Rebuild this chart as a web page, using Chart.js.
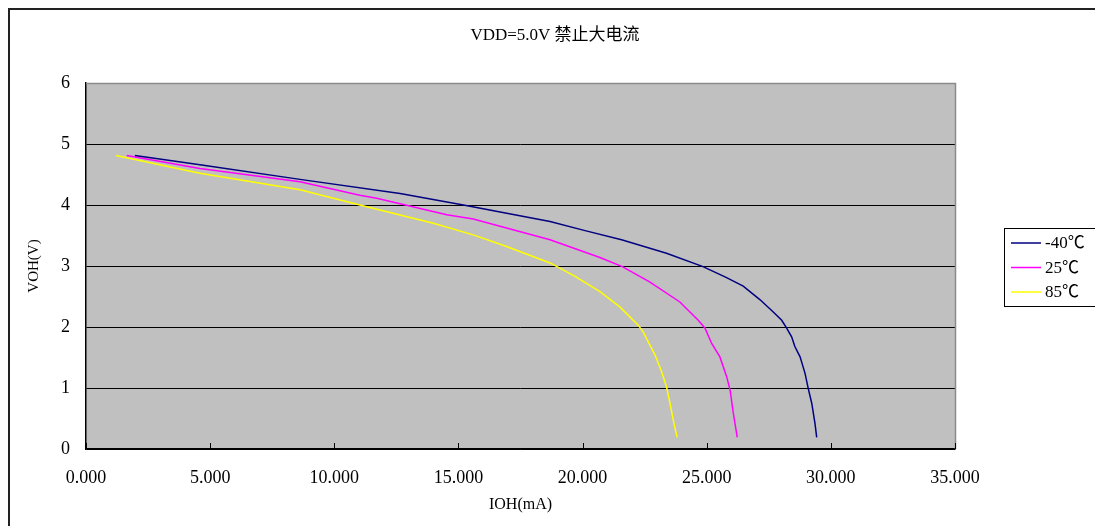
<!DOCTYPE html>
<html>
<head>
<meta charset="utf-8">
<script src="https://cdn.jsdelivr.net/npm/chart.js@4.4.1/dist/chart.umd.min.js"></script>
<style>
  html, body { margin: 0; padding: 0; background: #fff; }
  #wrap { position: relative; width: 1095px; height: 526px; }
</style>
</head>
<body>
<div id="wrap"><canvas id="c" width="1095" height="526"></canvas></div>
<script>
// ---- data ----
const chartTitle = 'VDD=5.0V 禁止大电流';
const xTitle = 'IOH(mA)';
const yTitle = 'VOH(V)';
const seriesLabels = ['-40℃', '25℃', '85℃'];

const iohM40 = [1.97, 4.59, 8.62, 12.65, 15.2, 18.69, 20.1, 21.57, 23.38, 24.85, 25.8, 26.47, 27.14, 27.67, 28.02, 28.22, 28.42, 28.55, 28.76, 28.96, 29.09, 29.23, 29.36, 29.43];
const vohM40 = [4.81, 4.66, 4.42, 4.19, 4.0, 3.73, 3.58, 3.43, 3.21, 2.99, 2.81, 2.67, 2.45, 2.25, 2.11, 1.98, 1.84, 1.68, 1.51, 1.24, 0.99, 0.75, 0.42, 0.19];

const ioh25 = [1.64, 4.59, 8.62, 11.03, 11.71, 14.53, 15.6, 18.69, 20.7, 21.6, 22.7, 23.92, 24.66, 24.93, 25.2, 25.53, 25.8, 25.94, 26.07, 26.23];
const voh25 = [4.81, 4.60, 4.38, 4.16, 4.11, 3.84, 3.77, 3.43, 3.14, 2.99, 2.74, 2.41, 2.11, 1.98, 1.73, 1.51, 1.19, 0.97, 0.59, 0.19];

const ioh85 = [1.21, 4.59, 8.62, 11.03, 13.99, 15.6, 16.94, 18.69, 19.7, 20.7, 21.5, 22.24, 22.44, 22.92, 23.18, 23.38, 23.52, 23.68, 23.81];
const voh85 = [4.81, 4.52, 4.25, 4.0, 3.70, 3.51, 3.32, 3.05, 2.83, 2.58, 2.33, 2.03, 1.92, 1.54, 1.27, 1.02, 0.75, 0.42, 0.19];

const xMin = 0, xMax = 35, xStep = 5;
const yMin = 0, yMax = 6, yStep = 1;

// ---- styling ----
const FONT = '"Liberation Serif", "Noto Sans CJK SC", serif';
const colors = ['#000080', '#FF00FF', '#FFFF00'];

function pts(xs, ys) { return xs.map((x, i) => ({ x: x, y: ys[i] })); }

const plotBg = {
  id: 'plotBg',
  beforeDraw(chart) {
    const { ctx, chartArea: a } = chart;
    ctx.save();
    ctx.fillStyle = '#C0C0C0';
    ctx.fillRect(a.left, a.top, a.right - a.left, a.bottom - a.top);
    ctx.restore();
  },
  afterDraw(chart) {
    const { ctx, chartArea: a } = chart;
    ctx.save();
    // outer chart border (extends off-canvas on right/bottom)
    ctx.strokeStyle = '#222';
    ctx.lineWidth = 2;
    ctx.strokeRect(9, 9, 1200, 700);
    // plot area top & right edges (gray)
    ctx.strokeStyle = '#8a8a8a';
    ctx.lineWidth = 1.5;
    ctx.beginPath();
    ctx.moveTo(a.left, a.top + 0.5);
    ctx.lineTo(a.right + 0.5, a.top + 0.5);
    ctx.lineTo(a.right + 0.5, a.bottom);
    ctx.stroke();
    // inward tick marks on x axis
    const xs = chart.scales.x;
    ctx.strokeStyle = '#000';
    ctx.lineWidth = 1;
    xs.ticks.forEach(t => {
      const px = Math.round(xs.getPixelForValue(t.value)) + 0.5;
      ctx.beginPath();
      ctx.moveTo(px, a.bottom);
      ctx.lineTo(px, a.bottom - 6);
      ctx.stroke();
    });
    // title
    ctx.fillStyle = '#000';
    ctx.font = '17px ' + FONT;
    ctx.textAlign = 'center';
    ctx.textBaseline = 'middle';
    ctx.fillText(chartTitle, 555, 36);
    // legend
    const lx = 1004.5, ly = 228.5;
    ctx.strokeStyle = '#000';
    ctx.lineWidth = 1;
    ctx.fillStyle = '#fff';
    ctx.fillRect(lx, ly, 200, 78);
    ctx.strokeRect(lx, ly, 200, 78);
    chart.data.datasets.forEach((ds, i) => {
      const y = 243 + i * 24.5;
      ctx.strokeStyle = ds.borderColor;
      ctx.lineWidth = 1.5;
      ctx.beginPath();
      ctx.moveTo(1011, y);
      ctx.lineTo(1041, y);
      ctx.stroke();
      ctx.fillStyle = '#000';
      ctx.font = '17px ' + FONT;
      ctx.textAlign = 'left';
      ctx.textBaseline = 'middle';
      ctx.fillText(ds.label, 1045, y + 1);
    });
    ctx.restore();
  }
};

new Chart(document.getElementById('c'), {
  type: 'scatter',
  data: {
    datasets: [
      { label: seriesLabels[0], data: pts(iohM40, vohM40) },
      { label: seriesLabels[1], data: pts(ioh25, voh25) },
      { label: seriesLabels[2], data: pts(ioh85, voh85) }
    ].map((d, i) => Object.assign(d, {
      showLine: true, borderColor: colors[i], backgroundColor: colors[i],
      borderWidth: 1.5, pointRadius: 0, pointHoverRadius: 0, tension: 0, fill: false
    }))
  },
  options: {
    responsive: false,
    animation: false,
    devicePixelRatio: 1,
    layout: { padding: { top: 83, right: 140, bottom: 0, left: 0 } },
    plugins: {
      legend: { display: false },
      title: { display: false },
      tooltip: { enabled: false }
    },
    scales: {
      x: {
        type: 'linear',
        min: xMin, max: xMax,
        afterFit: s => { s.height = 77; },
        grid: { display: false },
        border: { display: true, color: '#000', width: 1.5 },
        ticks: {
          stepSize: xStep,
          padding: 10,
          color: '#000',
          font: { family: FONT, size: 18 },
          maxRotation: 0,
          callback: v => v.toFixed(3)
        },
        title: {
          display: true, text: xTitle, color: '#000',
          font: { family: FONT, size: 16 },
          padding: { top: 0, bottom: 12 }
        }
      },
      y: {
        type: 'linear',
        min: yMin, max: yMax,
        afterFit: s => { s.width = 86; },
        grid: {
          drawTicks: false,
          color: c => (c.tick && c.tick.value === yMax) ? '#8a8a8a' : '#000',
          lineWidth: 1
        },
        border: { display: true, color: '#000', width: 1.5 },
        ticks: {
          stepSize: yStep,
          padding: 16,
          color: '#000',
          font: { family: FONT, size: 18 }
        },
        title: {
          display: true, text: yTitle, color: '#000',
          font: { family: FONT, size: 15 },
          padding: { top: 25, bottom: 0 }
        }
      }
    }
  },
  plugins: [plotBg]
});
</script>
</body>
</html>
